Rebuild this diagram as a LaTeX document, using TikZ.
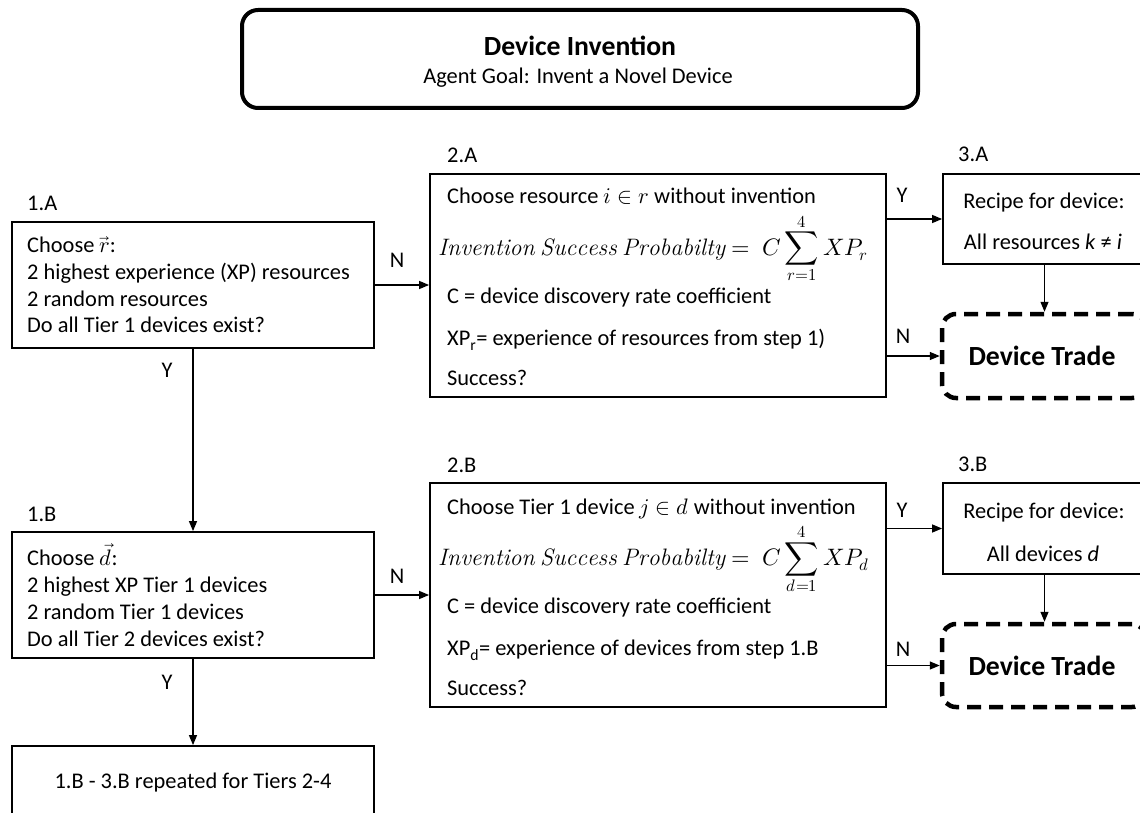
\documentclass[tikz,border=0pt]{standalone}
\usepackage{fontspec}
\usepackage{unicode-math}
\setmathfont{Latin Modern Math}
\setsansfont{Carlito}
\renewcommand{\familydefault}{\sfdefault}
\usetikzlibrary{arrows.meta,calc}
\newcommand{\bodyfs}{\fontsize{22.4}{27}\selectfont}
\newcommand{\bigfs}{\fontsize{27.7}{33}\selectfont\bfseries}
\begin{document}
\begin{tikzpicture}[x=1pt,y=-1pt,
  box/.style={draw, line width=1.8pt, rectangle, inner sep=0pt},
  titlebox/.style={draw, line width=4pt, rounded corners=16pt, inner sep=0pt},
  tradebox/.style={draw, line width=4.5pt, dash pattern=on 14pt off 8pt, rounded corners=14pt, inner sep=0pt},
  txt/.style={font=\bodyfs, inner sep=0pt, anchor=base west},
  ctxt/.style={font=\bodyfs, inner sep=0pt, anchor=base},
  yn/.style={font=\bodyfs, inner sep=0pt, anchor=base},
  eq/.style={font=\fontsize{23.8}{28}\selectfont, inner sep=0pt, anchor=base west},
  arr/.style={line width=1.3pt, -{Triangle[length=10pt,width=8pt]}}]
\useasboundingbox (0,0) rectangle (1140,813);
\fill[white] (0,0) rectangle (1140,813);
\clip (0,0) rectangle (1140,813);

% title
\node[titlebox, minimum width=676pt, minimum height=98pt] (title) at (580,59) {};
\node[ctxt, font=\bigfs] (tt) at (580,56) {Device Invention};
\node[ctxt] (ts) at (578,84) {Agent Goal: Invent a Novel Device};

% 1.A
\node[txt] (l1a) at (27,211) {1.A};
\node[box, minimum width=362pt, minimum height=126pt] (n1a) at (193,285) {};
\node[txt] (t1a1) at (27,252) {Choose $\vec{r}$:};
\node[txt] (t1a2) at (27,279) {2 highest experience (XP) resources};
\node[txt] (t1a3) at (27,306) {2 random resources};
\node[txt] (t1a4) at (27,332) {Do all Tier 1 devices exist?};

% 1.B
\node[txt] (l1b) at (27,521) {1.B};
\node[box, minimum width=362pt, minimum height=126pt] (n1b) at (193,595) {};
\node[txt] (t1b1) at (27,565) {Choose $\vec{d}$:};
\node[txt] (t1b2) at (27,592) {2 highest XP Tier 1 devices};
\node[txt] (t1b3) at (27,619) {2 random Tier 1 devices};
\node[txt] (t1b4) at (27,646) {Do all Tier 2 devices exist?};

% final
\node[box, minimum width=362pt, minimum height=100pt] (fin) at (193,796) {};
\node[ctxt] (tfin) at (193,788) {1.B - 3.B repeated for Tiers 2-4};

% 2.A
\node[txt] (l2a) at (447,163) {2.A};
\node[box, minimum width=456pt, minimum height=223pt] (n2a) at (658,285.5) {};
\node[txt] (t2a1) at (447,204) {Choose resource $i \in r$ without invention};
\node[eq] (t2a2) at (438,255) {$\displaystyle \mathit{Invention\ Success\ Probabilty} =\ C\sum_{r=1}^{4} XP_r$};
\node[txt] (t2a3) at (447,303) {C = device discovery rate coefficient};
\node[txt] (t2a4) at (447,345) {XP\textsubscript{r}= experience of resources from step 1)};
\node[txt] (t2a5) at (447,385) {Success?};

% 2.B
\node[txt] (l2b) at (447,472) {2.B};
\node[box, minimum width=456pt, minimum height=224pt] (n2b) at (658,595) {};
\node[txt] (t2b1) at (447,514) {Choose Tier 1 device $j \in d$ without invention};
\node[eq] (t2b2) at (438,565) {$\displaystyle \mathit{Invention\ Success\ Probabilty} =\ C\sum_{d=1}^{4} XP_d$};
\node[txt] (t2b3) at (447,613) {C = device discovery rate coefficient};
\node[txt] (t2b4) at (447,655) {XP\textsubscript{d}= experience of devices from step 1.B};
\node[txt] (t2b5) at (447,695) {Success?};

% 3.A
\node[txt] (l3a) at (958,162) {3.A};
\node[box, minimum width=203pt, minimum height=90pt] (n3a) at (1044.5,219) {};
\node[ctxt] (t3a1) at (1044,208) {Recipe for device:};
\node[ctxt] (t3a2) at (1043,249) {All resources \textit{k} ≠ \textit{i}};
\node[tradebox, minimum width=204pt, minimum height=84pt] (dta) at (1044,356) {};
\node[ctxt, font=\bigfs] (tdta) at (1042,365) {Device Trade};

% 3.B
\node[txt] (l3b) at (958,471) {3.B};
\node[box, minimum width=203pt, minimum height=91pt] (n3b) at (1044.5,528.5) {};
\node[ctxt] (t3b1) at (1044,518) {Recipe for device:};
\node[ctxt] (t3b2) at (1043,561) {All devices \textit{d}};
\node[tradebox, minimum width=204pt, minimum height=83pt] (dtb) at (1044,665.5) {};
\node[ctxt, font=\bigfs] (tdtb) at (1042,675) {Device Trade};

% connectors
\draw[arr] (n1a.east) -- (n1a.east -| n2a.west);
\node[yn] (yn1) at (397,267) {N};
\draw[arr] (n1a.south) -- (n1b.north);
\node[yn] (yn2) at (167,377) {Y};
\draw[arr] (n1b.east) -- (n1b.east -| n2b.west);
\node[yn] (yn3) at (397,583) {N};
\draw[arr] (n1b.south) -- (fin.north);
\node[yn] (yn4) at (167,689) {Y};

\draw[arr] (n2a.east |- n3a.west) -- (n3a.west);
\node[yn] (yn5) at (902,203) {Y};
\draw[arr] (n2a.east |- dta.west) -- (dta.west);
\node[yn] (yn6) at (903,343) {N};
\draw[arr] (n3a.south) -- (n3a.south |- dta.north);

\draw[arr] (n2b.east |- n3b.west) -- (n3b.west);
\node[yn] (yn7) at (902,517) {Y};
\draw[arr] (n2b.east |- dtb.west) -- (dtb.west);
\node[yn] (yn8) at (903,656) {N};
\draw[arr] (n3b.south) -- (n3b.south |- dtb.north);
\end{tikzpicture}
\end{document}
